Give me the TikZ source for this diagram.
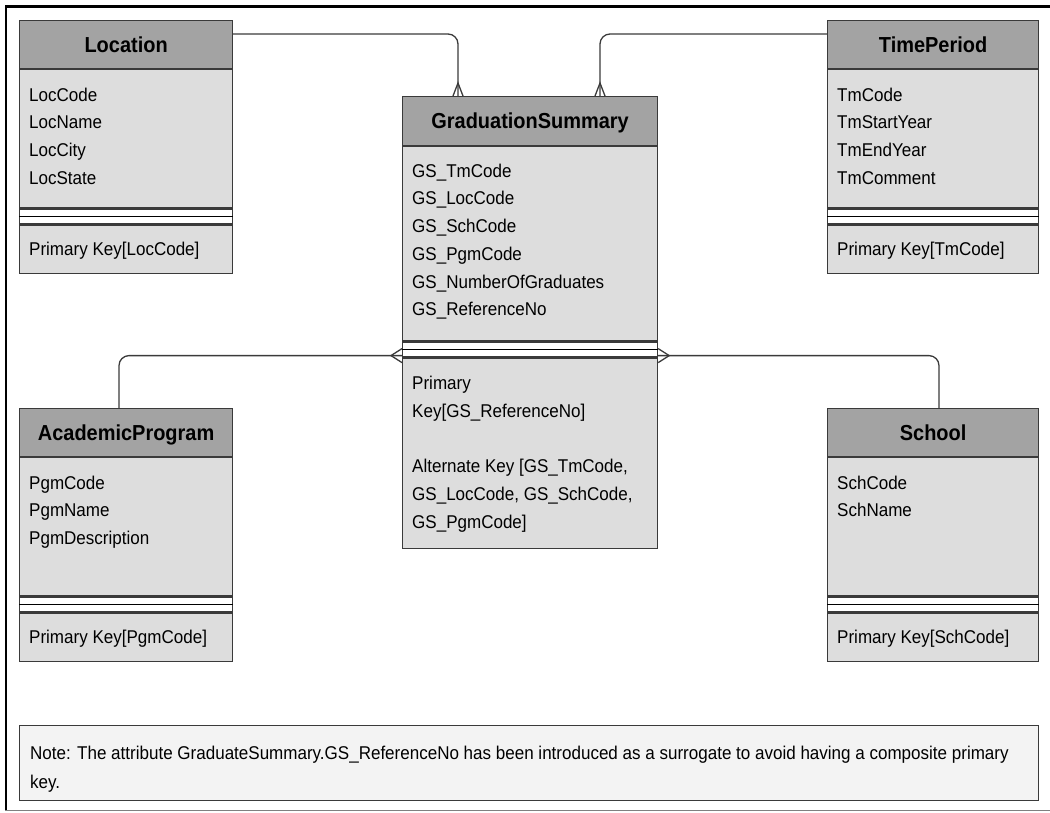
\documentclass[tikz,border=0pt]{standalone}
\usepackage{fontspec}
\setmainfont{Liberation Sans}[FakeStretch=0.92]
\usepackage{tikz}
\usetikzlibrary{calc}

\definecolor{hdrc}{HTML}{A3A3A3}
\definecolor{bodyc}{HTML}{DDDDDD}
\definecolor{notec}{HTML}{F3F3F3}
\definecolor{bordc}{HTML}{3A3A3A}

\begin{document}
\begin{tikzpicture}[x=1pt, y=-1pt,
    hdr/.style={draw=bordc, fill=hdrc, line width=1.2pt, anchor=north west, inner sep=0pt,
        text height=15pt, text depth=0pt, font=\fontsize{21.7}{26}\selectfont\bfseries},
    attr/.style={draw=bordc, fill=bodyc, line width=1.2pt, anchor=north west, inner sep=0pt},
    band/.style={draw=bordc, fill=white, line width=1.2pt, anchor=north west, inner sep=0pt},
    fld/.style={anchor=base west, inner sep=0pt, font=\fontsize{18.5}{27.7}\selectfont},
    sep/.style={black, line width=1.6pt},
    conn/.style={bordc, line width=1.3pt}]
    \useasboundingbox (0,0) rectangle (1050,812);

    % 外框
    \draw[black, line width=3pt] (5,6) -- (1050,6);
    \draw[black, line width=2pt] (6,5) -- (6,811);
    \draw[gray, line width=1.5pt] (5,810.5) -- (1050,810.5);

    % Location
    \node[hdr, minimum width=213, minimum height=48] (loc) at (19,20) {Location};
    \node[attr, minimum width=213, minimum height=138] (locA) at (loc.south west) {};
    \node[band, minimum width=213, minimum height=15] (locB) at (locA.south west) {};
    \node[attr, minimum width=213, minimum height=48] (locK) at (locB.south west) {};
    \draw[sep] (locB.west) -- (locB.east);
    \foreach \t [count=\i] in {LocCode, LocName, LocCity, LocState}
        \node[fld] (loc-f\i) at ($(locA.north west)+(10,{32+(\i-1)*27.7})$) {\t};
    \node[fld] (loc-k) at ($(locK.north west)+(10,31)$) {Primary Key[LocCode]};

    % TimePeriod
    \node[hdr, minimum width=211, minimum height=48] (tp) at (827,20) {TimePeriod};
    \node[attr, minimum width=211, minimum height=138] (tpA) at (tp.south west) {};
    \node[band, minimum width=211, minimum height=15] (tpB) at (tpA.south west) {};
    \node[attr, minimum width=211, minimum height=48] (tpK) at (tpB.south west) {};
    \draw[sep] (tpB.west) -- (tpB.east);
    \foreach \t [count=\i] in {TmCode, TmStartYear, TmEndYear, TmComment}
        \node[fld] (tp-f\i) at ($(tpA.north west)+(10,{32+(\i-1)*27.7})$) {\t};
    \node[fld] (tp-k) at ($(tpK.north west)+(10,31)$) {Primary Key[TmCode]};

    % GraduationSummary
    \node[hdr, minimum width=255, minimum height=49] (gs) at (402,96) {GraduationSummary};
    \node[attr, minimum width=255, minimum height=194] (gsA) at (gs.south west) {};
    \node[band, minimum width=255, minimum height=15] (gsB) at (gsA.south west) {};
    \node[attr, minimum width=255, minimum height=190] (gsK) at (gsB.south west) {};
    \draw[sep] (gsB.west) -- (gsB.east);
    \foreach \t [count=\i] in {GS\_TmCode, GS\_LocCode, GS\_SchCode, GS\_PgmCode,
        GS\_NumberOfGraduates, GS\_ReferenceNo}
        \node[fld] (gs-f\i) at ($(gsA.north west)+(10,{31+(\i-1)*27.7})$) {\t};
    \foreach \t [count=\i] in {Primary, Key[GS\_ReferenceNo], {}, {Alternate Key [GS\_TmCode,},
        {GS\_LocCode, GS\_SchCode,}, GS\_PgmCode]}
        \node[fld] (gs-k\i) at ($(gsK.north west)+(10,{32+(\i-1)*27.7})$) {\t};

    % AcademicProgram
    \node[hdr, minimum width=213, minimum height=48] (ap) at (19,408) {AcademicProgram};
    \node[attr, minimum width=213, minimum height=138] (apA) at (ap.south west) {};
    \node[band, minimum width=213, minimum height=15] (apB) at (apA.south west) {};
    \node[attr, minimum width=213, minimum height=48] (apK) at (apB.south west) {};
    \draw[sep] (apB.west) -- (apB.east);
    \foreach \t [count=\i] in {PgmCode, PgmName, PgmDescription}
        \node[fld] (ap-f\i) at ($(apA.north west)+(10,{32+(\i-1)*27.7})$) {\t};
    \node[fld] (ap-k) at ($(apK.north west)+(10,31)$) {Primary Key[PgmCode]};

    % School
    \node[hdr, minimum width=211, minimum height=48] (sch) at (827,408) {School};
    \node[attr, minimum width=211, minimum height=138] (schA) at (sch.south west) {};
    \node[band, minimum width=211, minimum height=15] (schB) at (schA.south west) {};
    \node[attr, minimum width=211, minimum height=48] (schK) at (schB.south west) {};
    \draw[sep] (schB.west) -- (schB.east);
    \foreach \t [count=\i] in {SchCode, SchName}
        \node[fld] (sch-f\i) at ($(schA.north west)+(10,{32+(\i-1)*27.7})$) {\t};
    \node[fld] (sch-k) at ($(schK.north west)+(10,31)$) {Primary Key[SchCode]};

    % 连线端点
    \coordinate (gsL) at ($(gs.north west)+(56,0)$);
    \coordinate (gsR) at ($(gs.north west)+(198,0)$);
    \coordinate (gsW) at ($(gsB.south west)+(0,-2)$);
    \coordinate (gsE) at ($(gsB.south east)+(0,-2)$);
    \coordinate (apT) at ($(ap.north west)+(100,0)$);
    \coordinate (schT) at ($(sch.north west)+(112,0)$);

    % 连线 (圆角)
    \draw[conn, rounded corners=10] ($(loc.north east)+(0,14)$) -| (gsL);
    \draw[conn, rounded corners=10] ($(tp.north west)+(0,14)$) -| (gsR);
    \draw[conn, rounded corners=10] (apT) |- (gsW);
    \draw[conn, rounded corners=10] (schT) |- (gsE);

    % 鸦爪 (多端)
    \draw[conn] ($(gsL)+(-5,0)$) -- ($(gsL)+(0,-13)$) -- ($(gsL)+(5,0)$);
    \draw[conn] ($(gsR)+(-5,0)$) -- ($(gsR)+(0,-13)$) -- ($(gsR)+(5,0)$);
    \draw[conn] ($(gsW)+(0,-7)$) -- ($(gsW)+(-11,0)$) -- ($(gsW)+(0,7)$);
    \draw[conn] ($(gsE)+(0,-7)$) -- ($(gsE)+(11,0)$) -- ($(gsE)+(0,7)$);

    % 注释框
    \node[attr, fill=notec, minimum width=1019, minimum height=75] (note) at (19,725) {};
    \node[fld, anchor=north west, align=left, font=\fontsize{18.5}{29}\selectfont] (note-t) at (30,745.5)
        {Note: The attribute GraduateSummary.GS\_ReferenceNo has been introduced as a surrogate to avoid having a composite primary\\ key.};
\end{tikzpicture}
\end{document}
